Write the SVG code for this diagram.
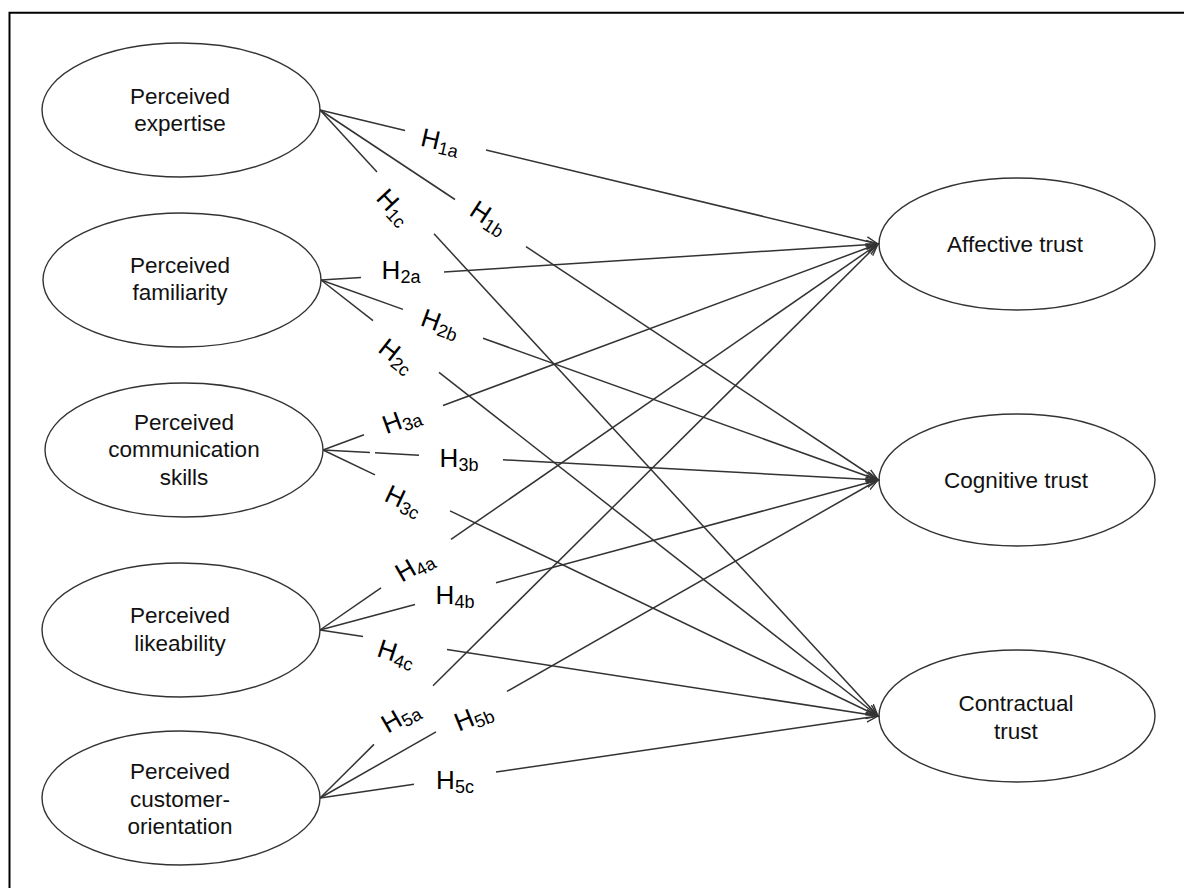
<svg xmlns="http://www.w3.org/2000/svg" width="1184" height="888" viewBox="0 0 1184 888">
  <style>
    .frame { fill: none; stroke: #000; stroke-width: 2; }
    .node ellipse { fill: #fff; stroke: #333; stroke-width: 1.4; }
    .node text { font-family: "Liberation Sans", Arial, sans-serif; font-size: 22.5px; fill: #111; text-anchor: middle; }
    .edge { stroke: #333; stroke-width: 1.5; fill: none; }
    .lbl { font-family: "Liberation Sans", Arial, sans-serif; font-size: 26px; fill: #000; text-anchor: middle; }
    .lbl tspan { font-size: 18px; }
  </style>
  <defs>
    <marker id="arrow" markerUnits="userSpaceOnUse" markerWidth="16" markerHeight="12" refX="12" refY="6" orient="auto">
      <path d="M0,1.5 L12,6 L0,10.5" fill="none" stroke="#333" stroke-width="1.4"/>
    </marker>
  </defs>

  <rect width="1184" height="888" fill="#fff"/>
  <path class="frame" d="M9.5,888 V12.8 H1184"/>

  <!-- antecedents -->
  <g id="expertise" class="node">
    <ellipse cx="181" cy="110" rx="139" ry="67"/>
    <text x="180" y="104">Perceived</text>
    <text x="180" y="131">expertise</text>
  </g>
  <g id="familiarity" class="node">
    <ellipse cx="182" cy="280" rx="139" ry="67"/>
    <text x="180" y="273">Perceived</text>
    <text x="180" y="300">familiarity</text>
  </g>
  <g id="communication" class="node">
    <ellipse cx="184" cy="450" rx="139" ry="67"/>
    <text x="184" y="430">Perceived</text>
    <text x="184" y="457">communication</text>
    <text x="184" y="485">skills</text>
  </g>
  <g id="likeability" class="node">
    <ellipse cx="181" cy="630" rx="139" ry="67"/>
    <text x="180" y="623">Perceived</text>
    <text x="180" y="651">likeability</text>
  </g>
  <g id="customer-orientation" class="node">
    <ellipse cx="181" cy="798" rx="139" ry="67"/>
    <text x="180" y="779">Perceived</text>
    <text x="180" y="807">customer-</text>
    <text x="180" y="834">orientation</text>
  </g>

  <!-- outcomes -->
  <g id="affective" class="node">
    <ellipse cx="1017" cy="244" rx="138" ry="66"/>
    <text x="1015" y="252">Affective trust</text>
  </g>
  <g id="cognitive" class="node">
    <ellipse cx="1017" cy="480" rx="138" ry="66"/>
    <text x="1016" y="488">Cognitive trust</text>
  </g>
  <g id="contractual" class="node">
    <ellipse cx="1017" cy="716" rx="138" ry="66"/>
    <text x="1016" y="711">Contractual</text>
    <text x="1016" y="739">trust</text>
  </g>

  <!-- hypothesised paths, each broken around its label -->
  <g id="connectors">
    <path class="edge" d="M320,110 L405,130.4"/>
    <path class="edge" d="M486,149.9 L878,244" marker-end="url(#arrow)"/>
    <path class="edge" d="M320,110 L455,199.5"/>
    <path class="edge" d="M526,246.6 L878,480" marker-end="url(#arrow)"/>
    <path class="edge" d="M320,110 L377,171.9"/>
    <path class="edge" d="M434,233.8 L878,716" marker-end="url(#arrow)"/>

    <path class="edge" d="M321,280 L361,277.4"/>
    <path class="edge" d="M444,272 L878,244" marker-end="url(#arrow)"/>
    <path class="edge" d="M321,280 L403,309.4"/>
    <path class="edge" d="M483,338.2 L878,480" marker-end="url(#arrow)"/>
    <path class="edge" d="M321,280 L373,320.7"/>
    <path class="edge" d="M439,372.4 L878,716" marker-end="url(#arrow)"/>

    <path class="edge" d="M323,450 L364,434.8"/>
    <path class="edge" d="M443,405.5 L878,244" marker-end="url(#arrow)"/>
    <path class="edge" d="M323,450 L370,452.5"/>
    <path class="edge" d="M375,452.8 L419,455.2"/>
    <path class="edge" d="M503,459.8 L878,480" marker-end="url(#arrow)"/>
    <path class="edge" d="M323,450 L375,474.9"/>
    <path class="edge" d="M450,510.9 L878,716" marker-end="url(#arrow)"/>

    <path class="edge" d="M320,630 L381,587.8"/>
    <path class="edge" d="M451,539.4 L878,244" marker-end="url(#arrow)"/>
    <path class="edge" d="M320,630 L415,604.5"/>
    <path class="edge" d="M496,582.7 L878,480" marker-end="url(#arrow)"/>
    <path class="edge" d="M320,630 L363,636.6"/>
    <path class="edge" d="M447,649.6 L878,716" marker-end="url(#arrow)"/>

    <path class="edge" d="M320,798 L374,744.4"/>
    <path class="edge" d="M433,685.8 L878,244" marker-end="url(#arrow)"/>
    <path class="edge" d="M320,798 L436,731.9"/>
    <path class="edge" d="M507,691.4 L878,480" marker-end="url(#arrow)"/>
    <path class="edge" d="M320,798 L414,784.2"/>
    <path class="edge" d="M496,772.1 L878,716" marker-end="url(#arrow)"/>
  </g>

  <!-- hypothesis labels -->
  <g id="labels">
    <text class="lbl" transform="translate(440,143) rotate(13)" y="7">H<tspan dy="4">1a</tspan></text>
    <text class="lbl" transform="translate(488,219) rotate(33)" y="7">H<tspan dy="4">1b</tspan></text>
    <text class="lbl" transform="translate(393,208) rotate(47)" y="7">H<tspan dy="4">1c</tspan></text>
    <text class="lbl" transform="translate(401,272)" y="7">H<tspan dy="4">2a</tspan></text>
    <text class="lbl" transform="translate(440,325) rotate(20)" y="7">H<tspan dy="4">2b</tspan></text>
    <text class="lbl" transform="translate(396,357) rotate(38)" y="7">H<tspan dy="4">2c</tspan></text>
    <text class="lbl" transform="translate(402,421) rotate(-20)" y="7">H<tspan dy="4">3a</tspan></text>
    <text class="lbl" transform="translate(459,460)" y="7">H<tspan dy="4">3b</tspan></text>
    <text class="lbl" transform="translate(403,502) rotate(25)" y="7">H<tspan dy="4">3c</tspan></text>
    <text class="lbl" transform="translate(415,567) rotate(-30)" y="7">H<tspan dy="4">4a</tspan></text>
    <text class="lbl" transform="translate(455,597)" y="7">H<tspan dy="4">4b</tspan></text>
    <text class="lbl" transform="translate(396,655) rotate(18)" y="7">H<tspan dy="4">4c</tspan></text>
    <text class="lbl" transform="translate(401,718) rotate(-30)" y="7">H<tspan dy="4">5a</tspan></text>
    <text class="lbl" transform="translate(474,718) rotate(-22)" y="7">H<tspan dy="4">5b</tspan></text>
    <text class="lbl" transform="translate(455,782)" y="7">H<tspan dy="4">5c</tspan></text>
  </g>
</svg>
